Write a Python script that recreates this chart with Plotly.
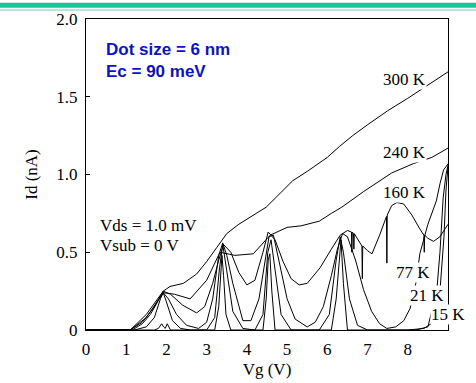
import plotly.graph_objects as go

# ---------------- data ----------------
vg_300 = [0, 1.1, 1.5, 1.92, 2.09, 2.42, 2.75, 3.0, 3.25, 3.5, 3.8, 4.1, 4.48, 4.83, 5.14, 5.5, 6.0, 6.3, 6.63, 7.0, 7.5, 8.0, 8.29, 8.6, 9.0]
id_300 = [0, 0, 0.1, 0.25, 0.28, 0.30, 0.36, 0.44, 0.53, 0.62, 0.68, 0.73, 0.79, 0.88, 0.96, 1.02, 1.11, 1.18, 1.25, 1.32, 1.41, 1.49, 1.54, 1.59, 1.66]

vg_240 = [0, 1.1, 1.5, 1.92, 2.2, 2.59, 3.0, 3.33, 3.7, 4.16, 4.58, 5.0, 5.35, 5.8, 6.1, 6.36, 6.9, 7.3, 7.6, 8.14, 8.6, 9.0]
id_240 = [0, 0, 0.08, 0.24, 0.23, 0.20, 0.32, 0.50, 0.48, 0.49, 0.61, 0.66, 0.67, 0.70, 0.75, 0.79, 0.89, 0.96, 1.01, 1.07, 1.11, 1.17]

vg_160 = [0, 1.1, 1.4, 1.7, 1.92, 2.1, 2.4, 2.75, 2.95, 3.15, 3.3, 3.42, 3.6, 3.8, 4.0, 4.2, 4.4, 4.53, 4.7, 4.9,
          5.1, 5.3, 5.5, 5.82, 6.1, 6.32, 6.5, 6.6, 6.61, 6.62, 6.65, 6.66, 6.67, 6.8, 6.86, 6.87, 6.88, 7.0, 7.11,
          7.3, 7.47, 7.48, 7.49, 7.6, 7.73, 7.9, 8.1, 8.3, 8.4, 8.41, 8.42, 8.5, 8.64, 8.8, 9.0]
id_160 = [0, 0, 0.05, 0.15, 0.25, 0.23, 0.16, 0.11, 0.15, 0.30, 0.45, 0.55, 0.50, 0.37, 0.29, 0.32, 0.50, 0.63, 0.58, 0.44,
          0.33, 0.29, 0.30, 0.40, 0.52, 0.61, 0.64, 0.63, 0.50, 0.63, 0.62, 0.52, 0.62, 0.56, 0.54, 0.33, 0.54, 0.51, 0.49,
          0.61, 0.73, 0.43, 0.74, 0.80, 0.82, 0.81, 0.74, 0.65, 0.61, 0.50, 0.61, 0.59, 0.57, 0.60, 0.68]

vg_77 = [0, 1.15, 1.4, 1.6, 1.8, 1.92, 2.05, 2.25, 2.5, 2.8, 3.0, 3.15, 3.3, 3.4, 3.5, 3.65, 3.9, 4.1, 4.3, 4.45,
         4.55, 4.66, 4.8, 5.0, 5.2, 5.5, 5.7, 5.9, 6.1, 6.25, 6.38, 6.5, 6.7, 6.9, 7.1, 7.3, 7.48, 7.7, 7.9, 8.06,
         8.2, 8.3, 8.5, 8.71, 8.8, 8.89, 8.95, 9.0]
id_77 = [0, 0, 0.04, 0.10, 0.19, 0.24, 0.20, 0.10, 0.03, 0.01, 0.05, 0.20, 0.48, 0.56, 0.48, 0.30, 0.06, 0.06, 0.20, 0.45,
         0.60, 0.61, 0.45, 0.20, 0.07, 0.02, 0.05, 0.15, 0.35, 0.52, 0.62, 0.60, 0.45, 0.26, 0.12, 0.04, 0.01, 0.02, 0.06, 0.14,
         0.30, 0.49, 0.68, 0.83, 0.94, 1.03, 1.05, 1.07]

vg_21 = [0, 1.2, 1.5, 1.7, 1.85, 1.92, 2.0, 2.15, 2.35, 2.6, 3.0, 3.2, 3.32, 3.4, 3.5, 3.65, 3.9, 4.2, 4.4, 4.52,
         4.6, 4.7, 4.85, 5.1, 5.8, 6.05, 6.22, 6.32, 6.4, 6.55, 6.75, 7.0, 8.2, 8.5, 8.72, 8.8, 8.88, 8.95, 9.0]
id_21 = [0, 0, 0.02, 0.08, 0.20, 0.24, 0.18, 0.06, 0.01, 0, 0, 0.08, 0.40, 0.55, 0.38, 0.12, 0.01, 0, 0.10, 0.50,
         0.58, 0.40, 0.10, 0, 0, 0.10, 0.45, 0.60, 0.50, 0.20, 0.03, 0, 0, 0.02, 0.25, 0.50, 0.85, 1.00, 1.06]

vg_15 = [0, 1.0, 1.7, 1.8, 1.88, 1.93, 1.97, 2.02, 2.06, 2.1, 2.2, 3.2, 3.3, 3.35, 3.38, 3.42, 3.48, 3.6, 4.4, 4.48,
         4.53, 4.57, 4.62, 4.7, 6.1, 6.22, 6.3, 6.34, 6.4, 6.5, 8.0, 8.4, 8.64, 8.8, 8.9, 8.95, 9.0]
id_15 = [0, 0, 0, 0.01, 0.04, 0.02, 0.01, 0.04, 0.02, 0, 0, 0, 0.15, 0.35, 0.48, 0.35, 0.10, 0, 0, 0.20,
         0.45, 0.49, 0.25, 0, 0, 0.20, 0.50, 0.58, 0.30, 0, 0, 0.01, 0.05, 0.25, 0.60, 0.90, 1.05]

curves = [(vg_300, id_300), (vg_240, id_240), (vg_160, id_160), (vg_77, id_77), (vg_21, id_21), (vg_15, id_15)]

temp_labels = ["300 K", "240 K", "160 K", "77 K", "21 K", "15 K"]
label_vg = [7.91, 7.91, 7.91, 8.13, 8.47, 9.0]
label_id = [1.608, 1.142, 0.887, 0.37, 0.223, 0.10]

x_ticks = [0, 1, 2, 3, 4, 5, 6, 7, 8]
y_ticks = [0, 0.5, 1.0, 1.5, 2.0]
y_ticktext = ["0", "0.5", "1.0", "1.5", "2.0"]

# ---------------- figure ----------------
serif = "Liberation Serif"
sans = "Liberation Sans"

fig = go.Figure()
for xs, ys in curves:
    fig.add_trace(go.Scatter(x=xs, y=ys, mode="lines",
                             line=dict(color="black", width=1), showlegend=False,
                             hoverinfo="skip"))

for t, lx, ly in zip(temp_labels, label_vg, label_id):
    fig.add_annotation(x=lx, y=ly, text=t, showarrow=False, xanchor="center", yanchor="middle",
                       font=dict(family=serif, size=17, color="black"),
                       bgcolor="white", borderpad=0)

fig.add_annotation(xref="paper", yref="paper", x=(104 - 86) / 362, y=(330 - 49.7) / 311,
                   text="<b>Dot size = 6 nm</b>", showarrow=False, xanchor="left", yanchor="middle",
                   font=dict(family=sans, size=17, color="#0a12c8"))
fig.add_annotation(xref="paper", yref="paper", x=(104 - 86) / 362, y=(330 - 71.3) / 311,
                   text="<b>Ec = 90 meV</b>", showarrow=False, xanchor="left", yanchor="middle",
                   font=dict(family=sans, size=17, color="#0a12c8"))
fig.add_annotation(xref="paper", yref="paper", x=(98 - 86) / 362, y=(330 - 225) / 311,
                   text="Vds = 1.0 mV", showarrow=False, xanchor="left", yanchor="middle",
                   font=dict(family=serif, size=17, color="black"))
fig.add_annotation(xref="paper", yref="paper", x=(98 - 86) / 362, y=(330 - 245) / 311,
                   text="Vsub = 0 V", showarrow=False, xanchor="left", yanchor="middle",
                   font=dict(family=serif, size=17, color="black"))

# top decorative teal bars
fig.add_shape(type="rect", xref="paper", yref="paper", x0=-86 / 362, x1=390 / 362,
              y0=(330 - 7.7) / 311, y1=(330 - 2.7) / 311, fillcolor="#14c896", line=dict(width=0), layer="above")
fig.add_shape(type="rect", xref="paper", yref="paper", x0=-86 / 362, x1=390 / 362,
              y0=(330 - 10.6) / 311, y1=(330 - 9.4) / 311, fillcolor="#5fd6b4", line=dict(width=0), layer="above")

fig.update_layout(
    width=476, height=383,
    margin=dict(l=86, r=28, t=19, b=53, autoexpand=False),
    paper_bgcolor="white", plot_bgcolor="white",
    font=dict(family=serif, size=17, color="black"),
    xaxis=dict(range=[0, 9], tickvals=x_ticks, ticks="", showgrid=False, zeroline=False,
               showline=True, linecolor="black", linewidth=1, mirror=True,
               automargin=False, ticklabelstandoff=4,
               title=dict(text="Vg (V)", font=dict(family=serif, size=17), standoff=4),
               tickfont=dict(family=serif, size=17)),
    yaxis=dict(range=[0, 2.0], tickvals=y_ticks, ticktext=y_ticktext, ticks="inside", ticklen=4,
               tickcolor="black", showgrid=False, zeroline=False,
               showline=True, linecolor="black", linewidth=1, mirror=True,
               automargin=False, ticklabelstandoff=4,
               title=dict(text="Id (nA)", font=dict(family=serif, size=17), standoff=14),
               tickfont=dict(family=serif, size=17)),
)

fig.write_html("out.html", config={"displayModeBar": False},
               post_script="document.body.style.margin='0px';")
